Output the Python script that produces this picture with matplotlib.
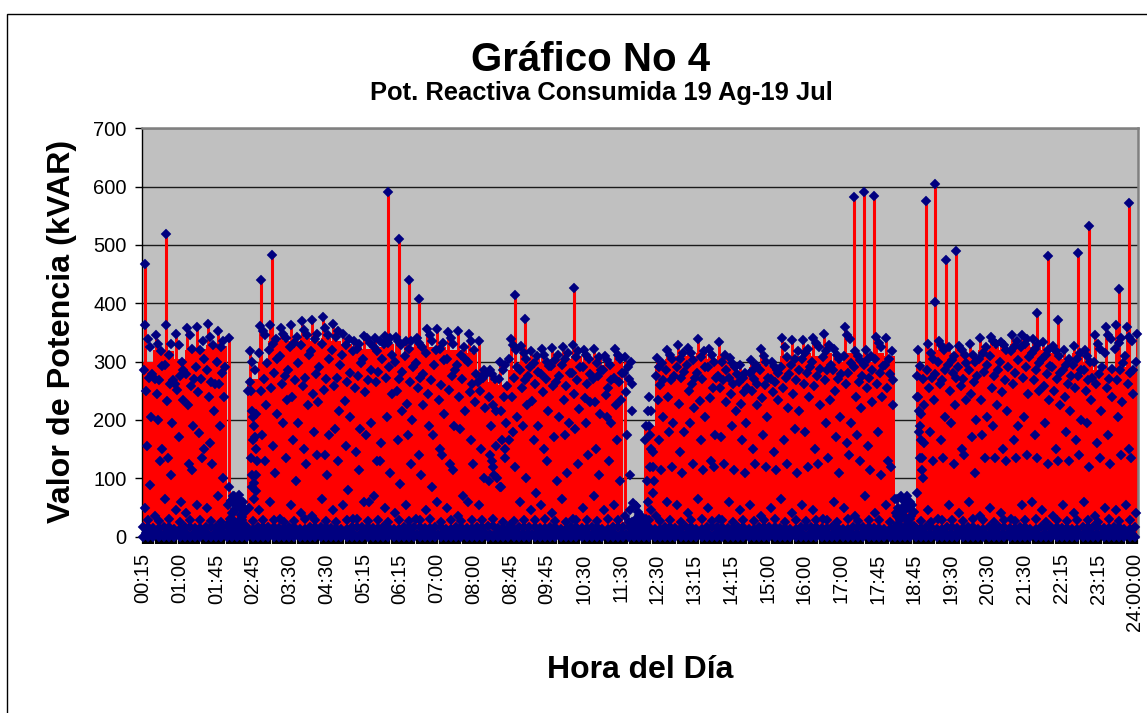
import matplotlib
matplotlib.use('Agg')
import matplotlib.pyplot as plt
from matplotlib.patches import Rectangle
from matplotlib.ticker import MultipleLocator

plt.rcParams['font.family'] = ['Liberation Sans', 'DejaVu Sans']

NAVY = '#000080'
RED = '#ff0000'

tick_labels = ['00:15', '01:00', '01:45', '02:45', '03:30', '04:30', '05:15', '06:15', '07:00', '08:00',
               '08:45', '09:45', '10:30', '11:30', '12:30', '13:15', '14:15', '15:00', '16:00', '17:00',
               '17:45', '18:45', '19:30', '20:30', '21:30', '22:15', '23:15', '24:00:00']

# solid red part of each quarter hour
solid = [300, 320, 318, 305, 320, 322, 328, 326,
         50, 50, 270, 300, 335, 335, 335, 340,
         335, 340, 335, 330, 325, 322, 325, 330,
         310, 325, 330, 325, 325, 320, 320, 315,
         270, 265, 260, 285, 300, 305, 300, 305,
         305, 310, 300, 305, 295, 300, 25, 25,
         190, 295, 305, 310, 310, 315, 305, 310,
         295, 275, 290, 295, 290, 310, 310, 315,
         310, 315, 300, 315, 300, 300, 315, 310,
         40, 40, 290, 305, 320, 315, 315, 310,
         320, 325, 320, 330, 330, 325, 320, 315,
         305, 315, 300, 285, 285, 290, 290, 285]

# highest normal reading of each quarter hour
peaks = [362, 345, 362, 347, 358, 360, 364, 352,
         340, 72, 319, 361, 363, 358, 363, 369,
         371, 376, 364, 347, 335, 344, 340, 344,
         342, 335, 341, 356, 356, 350, 353, 347,
         335, 285, 300, 338, 326, 318, 322, 323,
         325, 328, 320, 321, 310, 322, 308, 52,
         190, 307, 320, 328, 323, 338, 321, 333,
         307, 295, 303, 321, 300, 341, 337, 337,
         341, 348, 322, 360, 318, 320, 342, 340,
         65, 70, 320, 330, 335, 325, 327, 330,
         340, 342, 333, 345, 345, 338, 333, 327,
         320, 327, 320, 345, 360, 362, 360, 348]

band_a = [325, 318, 330, 300, 322, 335, 328, 335,
          70, 40, 285, 345, 338, 340, 342, 345,
          348, 345, 352, 338, 330, 332, 335, 340,
          328, 335, 325, 335, 332, 330, 325, 320,
          285, 270, 295, 320, 305, 310, 300, 312,
          315, 318, 305, 308, 295, 305, 300, 35,
          215, 298, 305, 315, 302, 318, 300, 312,
          290, 280, 295, 300, 285, 308, 318, 322,
          325, 328, 305, 338, 302, 310, 325, 318,
          50, 55, 270, 305, 320, 310, 312, 300,
          325, 330, 320, 335, 338, 330, 320, 310,
          305, 315, 300, 322, 338, 340, 335, 325]

band_b = [285, 270, 295, 262, 278, 290, 285, 300,
          55, 25, 250, 315, 320, 310, 325, 328,
          318, 330, 320, 312, 318, 305, 325, 330,
          300, 310, 298, 315, 320, 305, 295, 300,
          265, 240, 270, 305, 285, 290, 278, 292,
          295, 280, 290, 270, 285, 272, 280, 28,
          165, 275, 285, 290, 295, 280, 290, 275,
          272, 265, 280, 285, 270, 290, 295, 305,
          300, 308, 285, 310, 290, 295, 305, 295,
          40, 48, 240, 285, 300, 295, 290, 285,
          305, 310, 300, 318, 325, 315, 305, 290,
          285, 295, 285, 300, 315, 322, 310, 300]

band_c = [272, 268, 262, 275, 258, 270, 265, 280,
          40, 20, 165, 270, 280, 275, 268, 272,
          278, 270, 272, 265, 275, 268, 282, 290,
          270, 265, 272, 268, 260, 275, 270, 262,
          272, 225, 240, 272, 268, 262, 270, 265,
          258, 268, 262, 275, 255, 265, 270, 18,
          120, 260, 268, 272, 262, 270, 255, 268,
          262, 248, 270, 260, 265, 272, 268, 280,
          275, 285, 270, 280, 265, 272, 280, 278,
          30, 35, 210, 272, 268, 280, 270, 265,
          282, 275, 268, 280, 290, 285, 278, 270,
          262, 275, 268, 278, 270, 285, 280, 275]

band_d = [250, 245, 232, 252, 225, 248, 240, 262,
          25, 12, 135, 250, 255, 262, 240, 258,
          245, 252, 258, 232, 255, 248, 265, 272,
          250, 228, 255, 245, 235, 252, 240, 248,
          250, 190, 215, 240, 255, 232, 248, 258,
          235, 245, 238, 230, 242, 225, 248, 14,
          95, 235, 240, 228, 250, 232, 238, 255,
          245, 228, 250, 238, 248, 255, 245, 262,
          258, 268, 250, 262, 240, 255, 262, 255,
          22, 25, 180, 255, 262, 250, 258, 245,
          235, 255, 248, 262, 272, 268, 258, 250,
          240, 255, 250, 262, 255, 268, 262, 258]

# second pass over the crowded part of the range
band_e = [338, 330, 312, 328, 345, 320, 342, 325,
          62, 33, 300, 352, 330, 348, 332, 355,
          338, 358, 342, 328, 322, 340, 318, 332,
          335, 322, 332, 345, 322, 340, 312, 335,
          275, 278, 285, 328, 315, 298, 312, 302,
          305, 308, 312, 298, 302, 312, 290, 30,
          240, 290, 312, 305, 315, 308, 312, 300,
          298, 272, 285, 310, 292, 325, 305, 315,
          332, 318, 312, 345, 310, 305, 332, 305,
          45, 60, 292, 315, 328, 302, 320, 312,
          315, 335, 328, 325, 330, 322, 312, 318,
          295, 305, 310, 330, 345, 332, 342, 335]

band_f = [278, 292, 268, 285, 270, 305, 262, 290,
          48, 18, 210, 298, 305, 285, 298, 312,
          290, 305, 295, 280, 298, 285, 305, 312,
          282, 290, 278, 295, 302, 285, 305, 278,
          278, 215, 258, 290, 275, 282, 292, 275,
          280, 290, 278, 285, 268, 280, 262, 22,
          145, 268, 275, 282, 272, 290, 272, 285,
          278, 255, 262, 272, 280, 278, 285, 290,
          288, 295, 278, 298, 275, 285, 292, 268,
          35, 42, 225, 278, 285, 272, 298, 275,
          295, 285, 290, 302, 308, 298, 292, 280,
          275, 285, 272, 290, 288, 298, 285, 290]

mid_a = [205, 150, 195, 235, 190, 150, 215, 240,
         18, 8, 105, 225, 210, 235, 195, 225,
         230, 175, 215, 205, 185, 195, 160, 245,
         215, 200, 225, 175, 210, 190, 215, 230,
         220, 155, 195, 205, 225, 190, 215, 205,
         195, 218, 230, 210, 195, 235, 215, 10,
         75, 205, 195, 180, 220, 205, 175, 230,
         215, 195, 225, 205, 235, 220, 215, 240,
         225, 235, 205, 195, 220, 230, 240, 225,
         15, 18, 160, 235, 205, 225, 235, 200,
         205, 225, 215, 190, 245, 250, 235, 225,
         215, 200, 235, 215, 240, 230, 245, 215]

mid_b = [155, 200, 135, 170, 125, 178, 160, 190,
         12, 6, 85, 175, 155, 195, 165, 150,
         180, 140, 185, 155, 145, 175, 130, 205,
         165, 175, 140, 190, 150, 125, 185, 165,
         150, 130, 165, 180, 190, 165, 150, 170,
         175, 185, 195, 150, 205, 165, 175, 6,
         60, 165, 180, 145, 195, 165, 130, 170,
         190, 165, 150, 175, 145, 165, 185, 180,
         150, 195, 170, 160, 175, 155, 180, 130,
         10, 12, 135, 180, 165, 195, 150, 170,
         175, 190, 150, 165, 205, 175, 195, 150,
         180, 165, 195, 160, 175, 205, 150, 185]

mid_c = [88, 130, 105, 60, 115, 135, 125, 100,
         8, 5, 65, 130, 110, 135, 95, 125,
         140, 105, 130, 80, 115, 60, 130, 110,
         90, 125, 105, 85, 140, 115, 70, 125,
         100, 105, 135, 120, 100, 75, 130, 95,
         110, 125, 140, 105, 130, 95, 105, 4,
         45, 115, 120, 110, 125, 115, 120, 125,
         115, 110, 125, 120, 115, 125, 110, 120,
         125, 135, 110, 140, 130, 115, 105, 120,
         8, 9, 115, 130, 135, 125, 140, 110,
         135, 135, 130, 135, 140, 135, 125, 130,
         130, 140, 120, 135, 125, 140, 135, 115]

low_a = [50, 35, 65, 45, 40, 55, 50, 70,
         6, 3, 50, 45, 60, 30, 55, 40,
         35, 65, 45, 55, 30, 60, 70, 50,
         40, 55, 30, 45, 60, 50, 35, 60,
         55, 95, 85, 20, 60, 45, 55, 40,
         65, 30, 50, 70, 45, 55, 35, 3,
         30, 35, 60, 55, 40, 65, 50, 30,
         60, 45, 55, 35, 50, 65, 40, 55,
         45, 30, 60, 50, 35, 70, 40, 55,
         6, 7, 75, 45, 30, 55, 40, 60,
         35, 50, 40, 30, 55, 60, 45, 35,
         55, 40, 60, 35, 50, 45, 55, 40]

low_b = [28, 27, 30, 26, 28, 29, 27, 26,
         30, 28, 27, 29, 28, 26, 27, 30,
         28, 27, 26, 29, 30, 27, 28, 26,
         29, 27, 28, 30, 26, 28, 27, 29,
         28, 30, 26, 27, 29, 28, 30, 27,
         26, 28, 29, 27, 30, 28, 26, 20,
         28, 27, 29, 26, 28, 30, 27, 28,
         26, 29, 27, 28, 30, 26, 28, 27,
         29, 28, 26, 30, 27, 28, 29, 26,
         28, 30, 27, 26, 29, 28, 27, 30,
         28, 26, 29, 27, 28, 30, 26, 28,
         27, 29, 28, 26, 30, 27, 28, 29]

low_c = [16, 15, 17, 14, 16, 15, 17, 16,
         18, 15, 14, 16, 17, 15, 16, 14,
         17, 16, 15, 14, 16, 17, 15, 16,
         14, 17, 16, 15, 16, 14, 17, 15,
         16, 18, 15, 14, 17, 16, 15, 16,
         14, 17, 15, 16, 14, 16, 17, 15,
         16, 14, 17, 15, 16, 14, 16, 17,
         15, 16, 14, 17, 16, 15, 14, 16,
         17, 15, 16, 14, 17, 16, 15, 14,
         16, 17, 15, 16, 14, 17, 15, 16,
         14, 16, 17, 15, 16, 14, 17, 16,
         15, 14, 16, 17, 15, 16, 14, 17]

low_d = [6, 5, 7, 6, 4, 6, 5, 7,
         6, 5, 4, 7, 6, 5, 6, 4,
         7, 6, 5, 6, 4, 7, 5, 6,
         5, 7, 4, 6, 5, 6, 7, 4,
         6, 5, 7, 6, 4, 5, 7, 6,
         4, 6, 5, 7, 6, 4, 5, 6,
         7, 5, 6, 4, 7, 6, 5, 6,
         4, 7, 5, 6, 6, 4, 7, 5,
         6, 4, 7, 6, 5, 6, 4, 7,
         5, 6, 7, 4, 6, 5, 6, 7,
         4, 6, 5, 7, 6, 4, 5, 6,
         7, 5, 6, 4, 7, 6, 5, 6]

zero_row = [0, 0, 0, 0, 0, 0, 0, 0,
            0, 0, 0, 0, 0, 0, 0, 0,
            0, 0, 0, 0, 0, 0, 0, 0,
            0, 0, 0, 0, 0, 0, 0, 0,
            0, 0, 0, 0, 0, 0, 0, 0,
            0, 0, 0, 0, 0, 0, 0, 0,
            0, 0, 0, 0, 0, 0, 0, 0,
            0, 0, 0, 0, 0, 0, 0, 0,
            0, 0, 0, 0, 0, 0, 0, 0,
            0, 0, 0, 0, 0, 0, 0, 0,
            0, 0, 0, 0, 0, 0, 0, 0,
            0, 0, 0, 0, 0, 0, 0, 0]

# the tall isolated readings
spike_slots = [0.19, 2.17, 11.3, 12.36, 23.44, 24.5, 25.5, 26.4, 35.6, 36.6, 41.25,
               68.1, 69.1, 70.0, 75.0, 75.9, 75.9, 76.9, 77.9, 85.6, 86.7, 87.6,
               89.6, 90.6, 93.5, 94.4]
spike_vals = [468, 518, 440, 482, 590, 510, 440, 408, 415, 373, 426,
              582, 591, 583, 576, 605, 403, 475, 489, 383, 481, 372,
              486, 532, 424, 572]

# clusters in the three low stretches and the climbs after them
extra_slots = [8.2, 8.4, 8.6, 8.8, 9.0, 9.2, 9.4, 9.6, 9.8, 8.3, 8.7, 9.1, 9.5,
               10.2, 10.3, 10.4, 10.5, 10.6, 10.7, 10.8, 10.9, 10.4, 10.6, 10.8,
               46.6, 46.9, 47.2, 47.5, 47.8, 46.8, 47.4,
               48.4, 48.5, 48.6, 48.7, 48.8, 48.9,
               72.0, 72.3, 72.6, 72.9, 73.2, 73.5, 72.2, 72.7, 73.1,
               74.1, 74.2, 74.3, 74.4, 74.5, 74.6, 74.7,
               33.2, 33.5, 33.9, 34.3, 34.7, 35.1]
extra_vals = [85, 62, 70, 56, 52, 65, 38, 60, 48, 30, 42, 55, 45,
              265, 250, 215, 205, 190, 170, 150, 130, 105, 92, 78,
              45, 58, 52, 38, 30, 25, 42,
              215, 190, 175, 150, 120, 95,
              65, 50, 70, 62, 55, 48, 35, 45, 60,
              275, 240, 215, 190, 165, 135, 100,
              140, 120, 100, 85, 150, 165]

fig = plt.figure(figsize=(11.47, 7.13), dpi=100)
fig.add_artist(Rectangle((7 / 1147, -0.01), 1.1, 1 + 0.01 - 13.5 / 713, transform=fig.transFigure,
                         fill=False, edgecolor='black', linewidth=1))

ax = fig.add_axes([142 / 1147, (713 - 536.7) / 713, 996 / 1147, 408.5 / 713])
ax.set_facecolor('#c0c0c0')
ax.set_xlim(-0.1, 95.3)
ax.set_ylim(0, 700)

slots = list(range(len(solid)))
ax.bar(slots, solid, width=1.0, align='edge', color=RED, linewidth=0, zorder=2)
ax.vlines([s + 0.2 for s in slots], 0, peaks, color=RED, linewidth=2.1, zorder=2)
ax.vlines(spike_slots, 0, spike_vals, color=RED, linewidth=2.2, zorder=2)


def draw_markers(xs, ys):
    ax.plot(xs, ys, linestyle='none', marker='D', markersize=4.6, color=NAVY,
            markeredgewidth=0.3, clip_on=False, zorder=4)


offsets = [(peaks, 0.2), (band_a, 0.7), (band_b, 0.1), (band_c, 0.55), (band_d, 0.3),
           (band_e, 0.45), (band_f, 0.85),
           (mid_a, 0.8), (mid_b, 0.4), (mid_c, 0.65), (low_a, 0.15), (low_b, 0.5),
           (low_c, 0.0), (low_c, 0.5), (low_d, 0.25), (low_d, 0.75), (zero_row, 0.0), (zero_row, 0.5)]
for vals, off in offsets:
    keep = [s for s in slots if s + off <= 95.2]
    draw_markers([s + off for s in keep], [vals[s] for s in keep])
draw_markers(spike_slots, spike_vals)
draw_markers(extra_slots, extra_vals)

ax.set_axisbelow(True)
ax.yaxis.grid(True, color='#1a1a1a', linewidth=1.0)
ax.xaxis.grid(False)
for name in ['top', 'right']:
    ax.spines[name].set_color('#808080')
    ax.spines[name].set_linewidth(1.8)
ax.spines['left'].set_linewidth(1.0)
ax.spines['bottom'].set_linewidth(1.0)

ax.set_yticks(range(0, 701, 100))
ax.tick_params(axis='y', labelsize=14.5, length=5, width=1, pad=6)
ax.set_xticks([i * 95 / 27 for i in range(len(tick_labels))])
ax.set_xticklabels(tick_labels, rotation=90, fontsize=14.5)
ax.xaxis.set_minor_locator(MultipleLocator(0.2))
ax.tick_params(axis='x', which='both', length=5.0, width=1.6, pad=7)

fig.text(591 / 1147, 1 - 60 / 713, 'Gráfico No 4', fontsize=29, fontweight='bold', ha='center', va='center')
fig.text(601 / 1147, 1 - 93 / 713, 'Pot. Reactiva Consumida 19 Ag-19 Jul', fontsize=18.4, fontweight='bold',
         ha='center', va='center')
fig.text(62 / 1147, 1 - 331 / 713, 'Valor de Potencia (kVAR)', fontsize=23.2, fontweight='bold', rotation=90,
         ha='center', va='center')
fig.text(640 / 1147, 1 - 670 / 713, 'Hora del Día', fontsize=23, fontweight='bold', ha='center', va='center')

fig.savefig('out.png', dpi=100)
